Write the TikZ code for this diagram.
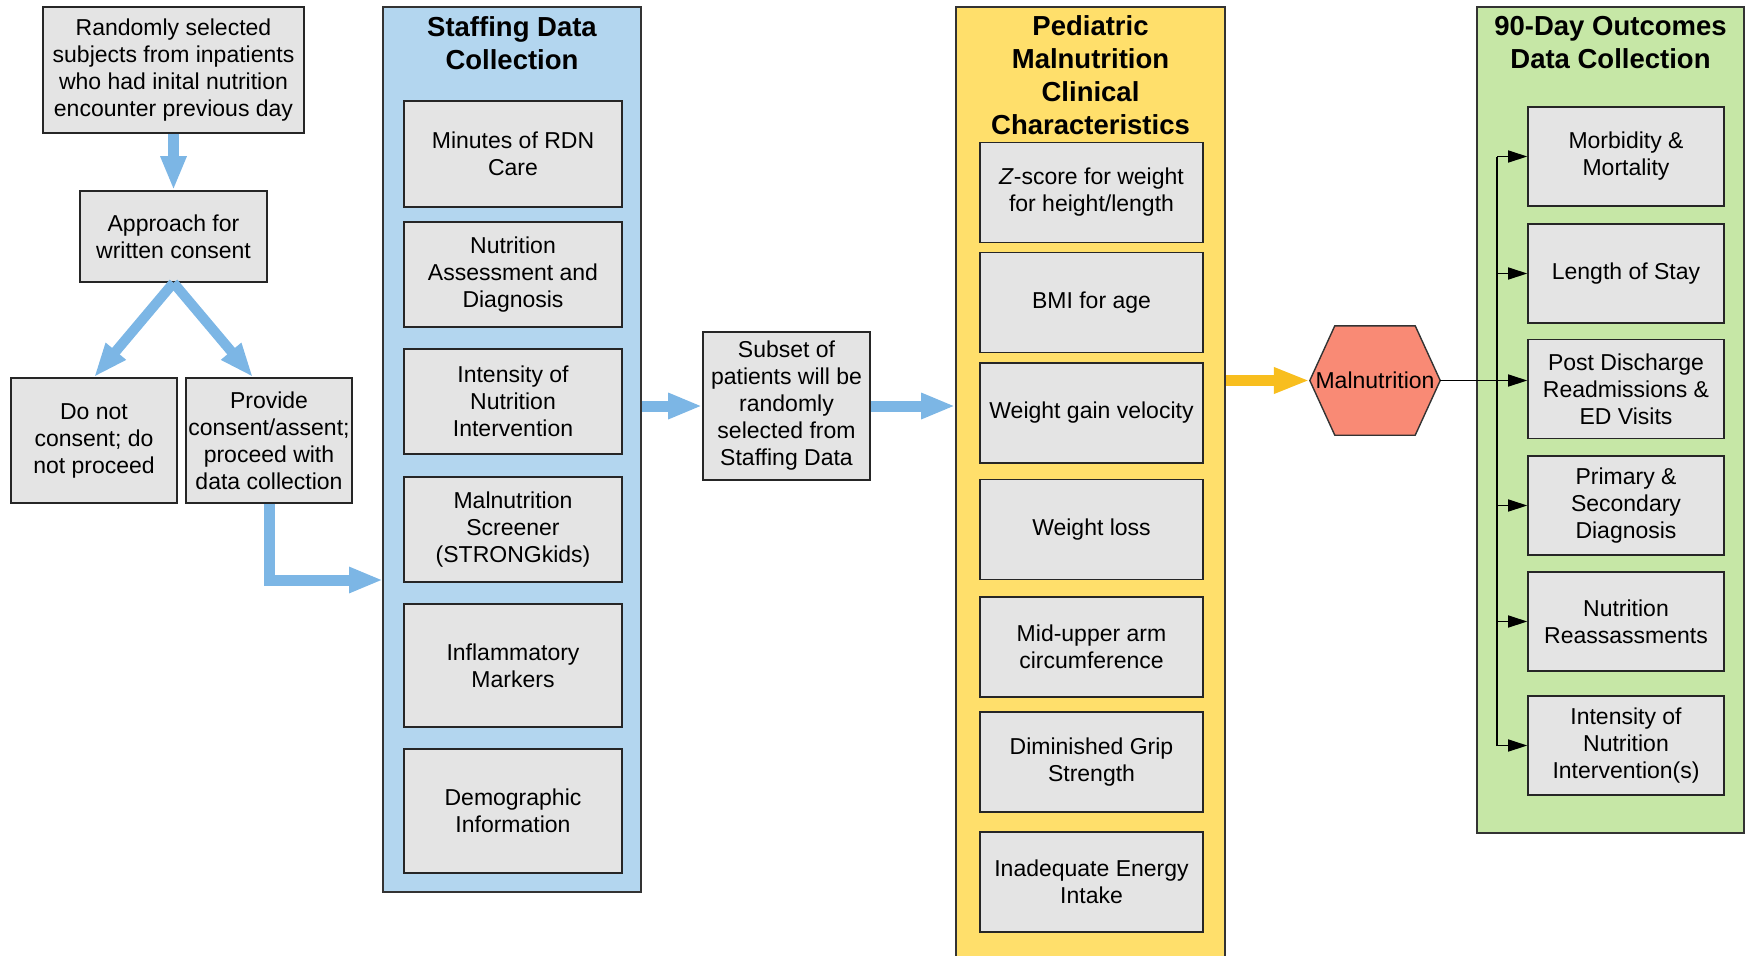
\documentclass[tikz,border=0pt]{standalone}
\usepackage{fontspec}
\setmainfont{Liberation Sans}
\usetikzlibrary{arrows.meta,positioning,backgrounds}

\definecolor{boxgray}{HTML}{E4E4E4}
\definecolor{staffblue}{HTML}{B3D6EF}
\definecolor{arrowblue}{HTML}{7CB6E5}
\definecolor{clinyellow}{HTML}{FFDF6B}
\definecolor{arrowyellow}{HTML}{F8BE1E}
\definecolor{outgreen}{HTML}{C6E7A6}
\definecolor{malred}{HTML}{F98A75}

\tikzset{
    box/.style = {draw = black!85, line width = 1.6pt, fill = boxgray, align = center, inner sep = 0pt, font = \fontsize{23}{27}\selectfont},
    panel/.style = {draw = black!80, line width = 1.6pt, inner sep = 0pt},
    head/.style = {align = center, inner sep = 0pt, font = \bfseries\fontsize{27.5}{33}\selectfont},
    bluearrow/.style = {draw = arrowblue, line width = 11pt, -{Triangle[length = 34pt, width = 24pt]}},
    yelarrow/.style = {draw = arrowyellow, line width = 11pt, -{Triangle[length = 36pt, width = 24pt]}},
    blkarrow/.style = {draw = black, line width = 1.5pt, -{Triangle[length = 19pt, width = 12pt]}}
}

\begin{document}
\begin{tikzpicture}[x = 1pt, y = -1pt]
        \useasboundingbox (0, 0) rectangle (1746, 956);

        % consent steps
        \node[box, minimum width = 261pt, minimum height = 126pt] (rand) at (173.5, 70) {Randomly selected\\subjects from inpatients\\who had inital nutrition\\encounter previous day};
        \node[box, minimum width = 187pt, minimum height = 91pt] (appr) at (173.5, 236.5) {Approach for\\written consent};
        \node[box, minimum width = 166pt, minimum height = 125pt] (nocon) at (94, 440.5) {Do not\\consent; do\\not proceed};
        \node[box, minimum width = 166pt, minimum height = 125pt] (prov) at (269, 440.5) {Provide\\consent/assent;\\proceed with\\data collection};

        % staffing data
        \node[panel, fill = staffblue, minimum width = 258pt, minimum height = 885pt] (staff) at (512, 449.5) {};
        \node[head] (stafft) at (512, 43) {Staffing Data\\Collection};
        \foreach \yc/\hh/\txt [count = \i] in {154/106/{Minutes of RDN\\Care}, 274.5/105/{Nutrition\\Assessment and\\Diagnosis}, 401.5/105/{Intensity of\\Nutrition\\Intervention}, 529.5/105/{Malnutrition\\Screener\\(STRONGkids)}, 665.5/123/{Inflammatory\\Markers}, 811/124/{Demographic\\Information}}{
            \node[box, minimum width = 218pt, minimum height = \hh pt] (s\i) at (513, \yc) {\txt};
        }

        \node[box, minimum width = 167pt, minimum height = 148pt] (sub) at (786.5, 406) {Subset of\\patients will be\\randomly\\selected from\\Staffing Data};

        % clinical characteristics
        \node[panel, fill = clinyellow, minimum width = 269pt, minimum height = 968pt] (yel) at (1090.5, 491) {};
        \node[head] (yelt) at (1090.5, 75) {Pediatric\\Malnutrition\\Clinical\\Characteristics};
        \foreach \yc/\txt [count = \i] in {192.5/{\textit{Z}-score for weight\\for height/length}, 302.5/{BMI for age}, 413/{Weight gain velocity}, 529.5/{Weight loss}, 647/{Mid-upper arm\\circumference}, 762/{Diminished Grip\\Strength}, 882/{Inadequate Energy\\Intake}}{
            \node[box, minimum width = 223pt, minimum height = 100pt] (p\i) at (1091.5, \yc) {\txt};
        }

        \node[inner sep = 0pt, minimum width = 130pt, minimum height = 109pt, font = \fontsize{23}{27}\selectfont] (mal) at (1375, 380.5) {Malnutrition};
        \begin{scope}[on background layer]
            \draw[fill = malred, draw = black!80, line width = 1.4pt] (mal.west) -- ([xshift = 25pt]mal.north west) -- ([xshift = -25pt]mal.north east) -- (mal.east) -- ([xshift = -25pt]mal.south east) -- ([xshift = 25pt]mal.south west) -- cycle;
        \end{scope}

        % outcomes
        \node[panel, fill = outgreen, minimum width = 267pt, minimum height = 826pt] (out) at (1610.5, 420) {};
        \node[head] (outt) at (1610.5, 43) {90-Day Outcomes\\Data Collection};
        \foreach \yc/\txt [count = \i] in {156.5/{Morbidity \&\\Mortality}, 273.5/{Length of Stay}, 389/{Post Discharge\\Readmissions \&\\ED Visits}, 505.5/{Primary \&\\Secondary\\Diagnosis}, 621.5/{Nutrition\\Reassassments}, 745.5/{Intensity of\\Nutrition\\Intervention(s)}}{
            \node[box, minimum width = 196pt, minimum height = 99pt] (g\i) at (1626, \yc) {\txt};
        }

        % arrows
        \draw[bluearrow] (rand.south) -- (appr.north);
        \draw[bluearrow, line width = 10pt] (appr.south) -- (nocon.north);
        \draw[bluearrow, line width = 10pt] (appr.south) -- ([xshift = -16pt]prov.north);
        \coordinate (entry) at (383, 580);
        \draw[bluearrow] (prov.south) |- (entry);
        \draw[bluearrow] (staff.east |- sub.west) -- (sub.west);
        \draw[bluearrow] (sub.east) -- (sub.east -| yel.west);
        \draw[yelarrow] (yel.east |- mal.west) -- (mal.west);

        \coordinate (trunk) at (1497, 380.5);
        \draw[black, line width = 1.5pt] (trunk |- g1.west) -- (trunk |- g6.west);
        \foreach \i in {1, 2, 4, 5, 6}{
            \draw[blkarrow] (trunk |- g\i.west) -- (g\i.west);
        }
        \draw[blkarrow] (mal.east) -- (mal.east -| g3.west);
    \end{tikzpicture}
\end{document}
